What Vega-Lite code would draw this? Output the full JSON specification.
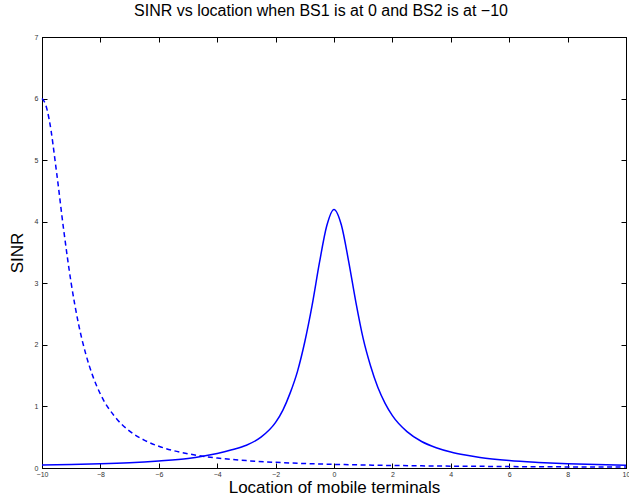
{
  "$schema": "https://vega.github.io/schema/vega-lite/v6.json",
  "width": 584,
  "height": 431,
  "autosize": {"type": "none"},
  "padding": {"left": 42, "top": 37, "right": 3, "bottom": 35},
  "background": "white",
  "title": {"text": "SINR vs location when BS1 is at 0 and BS2 is at −10", "font": "Liberation Sans", "fontSize": 16, "fontWeight": "normal", "color": "black", "offset": 14, "dx": -13},
  "config": {
    "view": {"stroke": "black", "strokeWidth": 1},
    "axis": {"grid": false, "domainColor": "black", "domainWidth": 1, "tickColor": "black", "tickWidth": 1, "tickSize": -5, "labelFont": "Liberation Sans", "labelFontSize": 7, "labelColor": "#333333", "labelFlush": false, "labelOverlap": false, "titleFont": "Liberation Sans", "titleFontSize": 17, "titleFontWeight": "normal", "titleColor": "black"}
  },
  "data": {"values": [
    {"x": -10, "sinr": 0.05, "s": "BS1"}, {"x": -9, "sinr": 0.057, "s": "BS1"}, {"x": -8, "sinr": 0.068, "s": "BS1"}, {"x": -7, "sinr": 0.086, "s": "BS1"}, {"x": -6, "sinr": 0.115, "s": "BS1"}, {"x": -5, "sinr": 0.155, "s": "BS1"}, {"x": -4.5, "sinr": 0.19, "s": "BS1"}, {"x": -4, "sinr": 0.235, "s": "BS1"}, {"x": -3.5, "sinr": 0.295, "s": "BS1"}, {"x": -3, "sinr": 0.37, "s": "BS1"}, {"x": -2.5, "sinr": 0.5, "s": "BS1"}, {"x": -2, "sinr": 0.74, "s": "BS1"}, {"x": -1.75, "sinr": 0.94, "s": "BS1"}, {"x": -1.5, "sinr": 1.22, "s": "BS1"}, {"x": -1.25, "sinr": 1.57, "s": "BS1"}, {"x": -1, "sinr": 2.05, "s": "BS1"}, {"x": -0.75, "sinr": 2.64, "s": "BS1"}, {"x": -0.5, "sinr": 3.33, "s": "BS1"}, {"x": -0.25, "sinr": 3.93, "s": "BS1"}, {"x": 0, "sinr": 4.2, "s": "BS1"}, {"x": 0.25, "sinr": 3.95, "s": "BS1"}, {"x": 0.5, "sinr": 3.36, "s": "BS1"}, {"x": 0.75, "sinr": 2.69, "s": "BS1"}, {"x": 1, "sinr": 2.1, "s": "BS1"}, {"x": 1.25, "sinr": 1.66, "s": "BS1"}, {"x": 1.5, "sinr": 1.31, "s": "BS1"}, {"x": 1.75, "sinr": 1.05, "s": "BS1"}, {"x": 2, "sinr": 0.85, "s": "BS1"}, {"x": 2.5, "sinr": 0.59, "s": "BS1"}, {"x": 3, "sinr": 0.43, "s": "BS1"}, {"x": 3.5, "sinr": 0.33, "s": "BS1"}, {"x": 4, "sinr": 0.26, "s": "BS1"}, {"x": 4.5, "sinr": 0.21, "s": "BS1"}, {"x": 5, "sinr": 0.17, "s": "BS1"}, {"x": 6, "sinr": 0.12, "s": "BS1"}, {"x": 7, "sinr": 0.09, "s": "BS1"}, {"x": 8, "sinr": 0.068, "s": "BS1"}, {"x": 9, "sinr": 0.055, "s": "BS1"}, {"x": 10, "sinr": 0.045, "s": "BS1"},
    {"x": -10, "sinr": 6.0, "s": "BS2"}, {"x": -9.875, "sinr": 5.9, "s": "BS2"}, {"x": -9.75, "sinr": 5.65, "s": "BS2"}, {"x": -9.5, "sinr": 4.8, "s": "BS2"}, {"x": -9.25, "sinr": 3.84, "s": "BS2"}, {"x": -9, "sinr": 3.0, "s": "BS2"}, {"x": -8.75, "sinr": 2.34, "s": "BS2"}, {"x": -8.5, "sinr": 1.85, "s": "BS2"}, {"x": -8.25, "sinr": 1.48, "s": "BS2"}, {"x": -8, "sinr": 1.2, "s": "BS2"}, {"x": -7.5, "sinr": 0.83, "s": "BS2"}, {"x": -7, "sinr": 0.6, "s": "BS2"}, {"x": -6.5, "sinr": 0.453, "s": "BS2"}, {"x": -6, "sinr": 0.353, "s": "BS2"}, {"x": -5.5, "sinr": 0.282, "s": "BS2"}, {"x": -5, "sinr": 0.231, "s": "BS2"}, {"x": -4.5, "sinr": 0.192, "s": "BS2"}, {"x": -4, "sinr": 0.162, "s": "BS2"}, {"x": -3, "sinr": 0.12, "s": "BS2"}, {"x": -2, "sinr": 0.092, "s": "BS2"}, {"x": -1, "sinr": 0.073, "s": "BS2"}, {"x": 0, "sinr": 0.059, "s": "BS2"}, {"x": 1, "sinr": 0.049, "s": "BS2"}, {"x": 2, "sinr": 0.041, "s": "BS2"}, {"x": 3, "sinr": 0.035, "s": "BS2"}, {"x": 4, "sinr": 0.03, "s": "BS2"}, {"x": 5, "sinr": 0.027, "s": "BS2"}, {"x": 6, "sinr": 0.023, "s": "BS2"}, {"x": 7, "sinr": 0.021, "s": "BS2"}, {"x": 8, "sinr": 0.018, "s": "BS2"}, {"x": 9, "sinr": 0.017, "s": "BS2"}, {"x": 10, "sinr": 0.015, "s": "BS2"}
  ]},
  "resolve": {"axis": {"x": "independent", "y": "independent"}},
  "layer": [
    {
      "transform": [{"filter": "datum.s === 'BS1'"}],
      "mark": {"type": "line", "color": "#0000ff", "strokeWidth": 1.5, "interpolate": "monotone"},
      "encoding": {
        "x": {"field": "x", "type": "quantitative", "scale": {"domain": [-10, 10], "nice": false, "zero": false}, "axis": {"orient": "bottom", "values": [-10, -8, -6, -4, -2, 0, 2, 4, 6, 8, 10], "labelPadding": 7, "title": "Location of mobile terminals", "titlePadding": 2}},
        "y": {"field": "sinr", "type": "quantitative", "scale": {"domain": [0, 7], "nice": false}, "axis": {"orient": "left", "values": [0, 1, 2, 3, 4, 5, 6, 7], "labelPadding": 9, "title": "SINR", "titlePadding": 8}}
      }
    },
    {
      "transform": [{"filter": "datum.s === 'BS2'"}],
      "mark": {"type": "line", "color": "#0000ff", "strokeWidth": 1.5, "strokeDash": [5, 3.5], "interpolate": "monotone"},
      "encoding": {
        "x": {"field": "x", "type": "quantitative", "axis": {"orient": "top", "values": [-10, -8, -6, -4, -2, 0, 2, 4, 6, 8, 10], "labels": false, "title": null}},
        "y": {"field": "sinr", "type": "quantitative", "axis": {"orient": "right", "values": [0, 1, 2, 3, 4, 5, 6, 7], "labels": false, "title": null}}
      }
    }
  ]
}
